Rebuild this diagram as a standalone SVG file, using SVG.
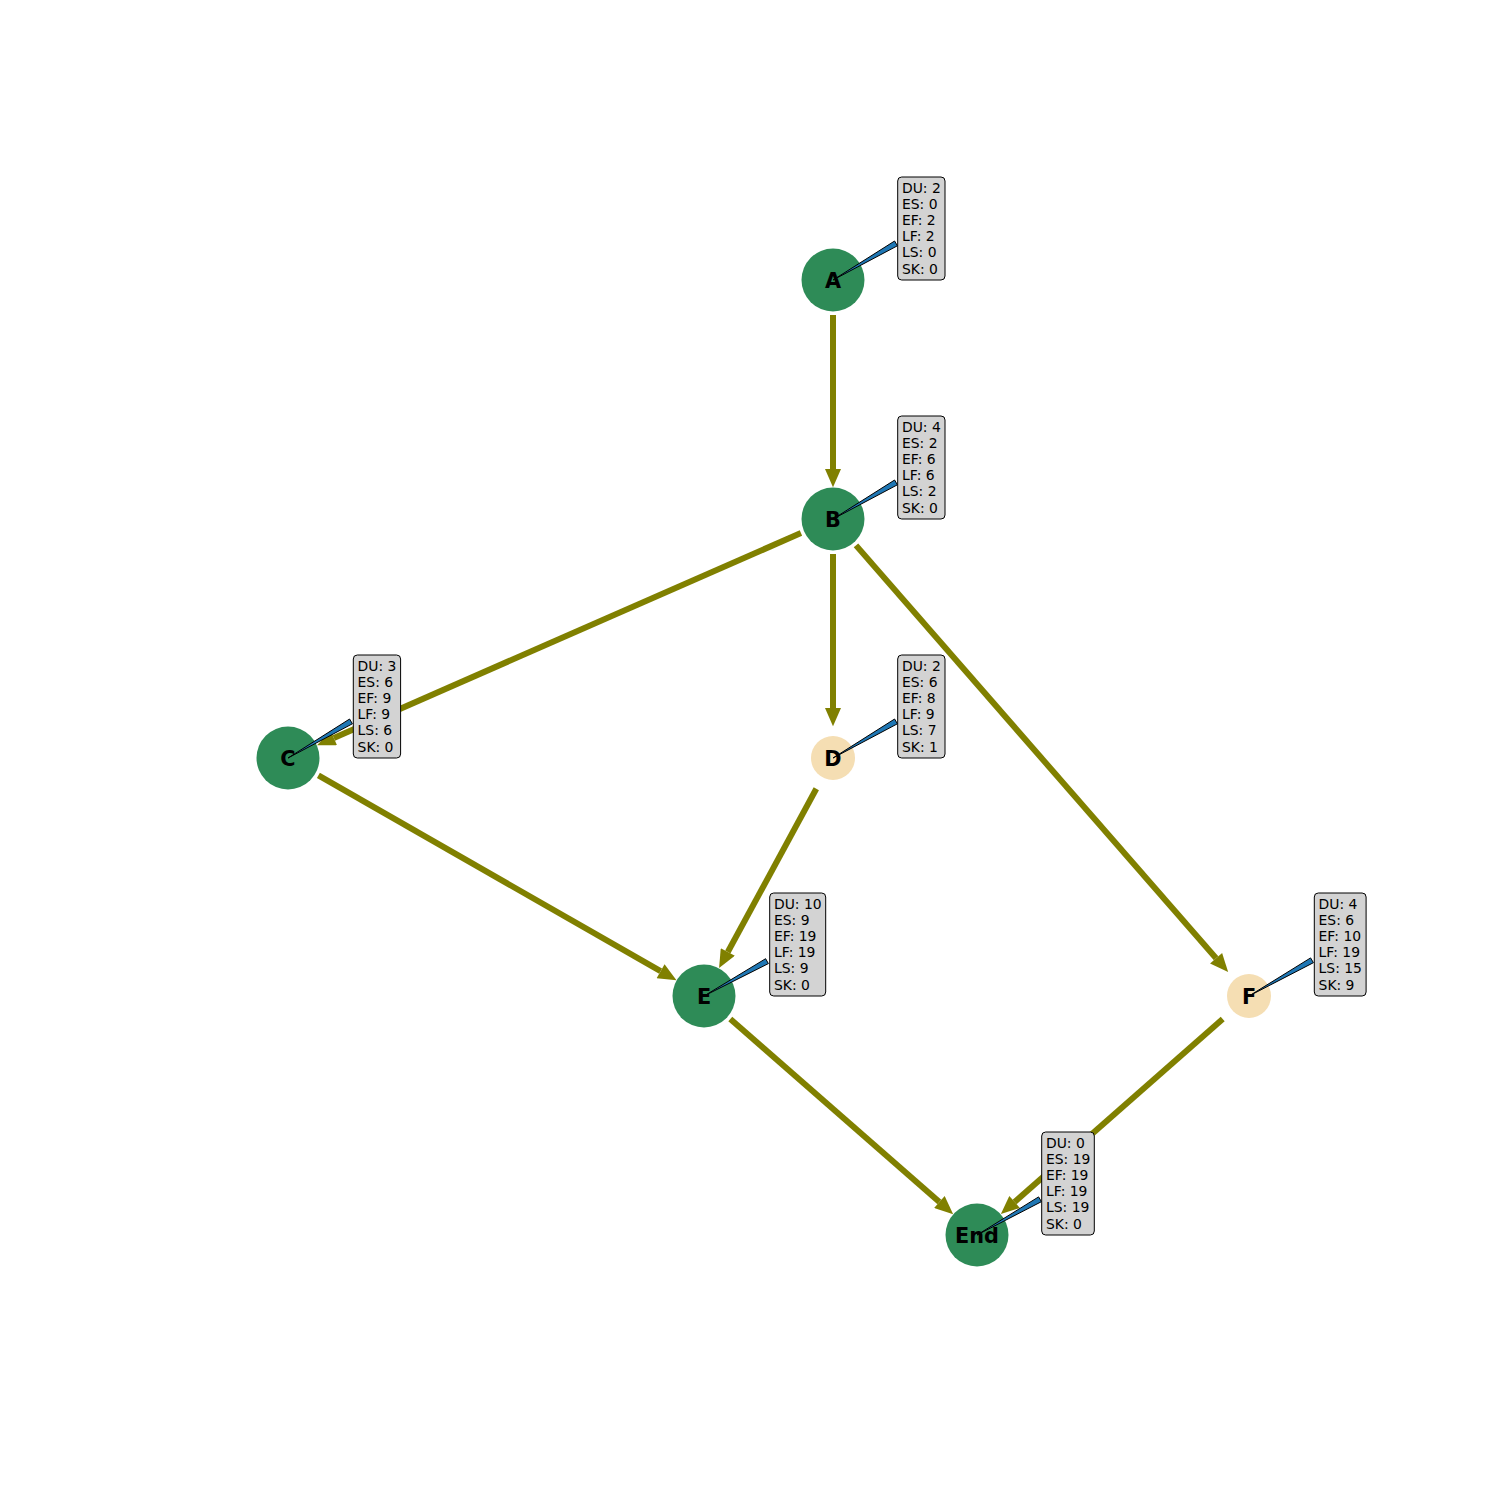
<svg xmlns="http://www.w3.org/2000/svg" width="1500" height="1500" viewBox="0 0 1500 1500">
<style>
.edge{stroke:#808000;stroke-width:6;fill:none;marker-end:url(#ah)}
.crit{fill:#2e8b57}
.non{fill:#f5deb3}
.lbl{font-family:"DejaVu Sans",sans-serif;font-weight:bold;font-size:20.8px;text-anchor:middle;fill:#000}
.box{fill:#d3d3d3;stroke:#000;stroke-width:1}
.info{font-family:"DejaVu Sans",sans-serif;font-size:13.9px;fill:#000}
.wedge{fill:#1f77b4;stroke:#000;stroke-width:1;stroke-linejoin:miter}
</style>
<defs>
<marker id="ah" markerUnits="userSpaceOnUse" markerWidth="20" markerHeight="16" refX="0" refY="7" orient="auto" viewBox="0 0 16 14">
<path d="M0,0 L16,7 L0,14 z" fill="#808000"/>
</marker>
</defs>
<rect width="1500" height="1500" fill="#fff"/>
<g id="edges">
<line class="edge" x1="833" y1="315" x2="833" y2="469"/>
<line class="edge" x1="800.95" y1="533.06" x2="333.79" y2="737.92"/>
<line class="edge" x1="833" y1="554" x2="833" y2="708"/>
<line class="edge" x1="856.0" y1="545.4" x2="1216.1" y2="958.3"/>
<line class="edge" x1="318.4" y1="775.4" x2="660.6" y2="971.2"/>
<line class="edge" x1="816.3" y1="788.8" x2="727.8" y2="952.0"/>
<line class="edge" x1="730.3" y1="1019.1" x2="939.4" y2="1202.1"/>
<line class="edge" x1="1222.7" y1="1019.1" x2="1014.6" y2="1202.0"/>
</g>
<g id="node-A"><circle class="crit" cx="833" cy="280" r="31.5"/><text class="lbl" x="833" y="287.5">A</text></g>
<g id="node-B"><circle class="crit" cx="833" cy="519" r="31.5"/><text class="lbl" x="833" y="526.5">B</text></g>
<g id="node-C"><circle class="crit" cx="288" cy="758" r="31.5"/><text class="lbl" x="288" y="765.5">C</text></g>
<g id="node-D"><circle class="non" cx="833" cy="758" r="22"/><text class="lbl" x="833" y="765.5">D</text></g>
<g id="node-E"><circle class="crit" cx="704" cy="996" r="31.5"/><text class="lbl" x="704" y="1003.5">E</text></g>
<g id="node-F"><circle class="non" cx="1249" cy="996" r="22"/><text class="lbl" x="1249" y="1003.5">F</text></g>
<g id="node-End"><circle class="crit" cx="977" cy="1235" r="31.5"/><text class="lbl" x="977" y="1242.5">End</text></g>
<g id="info-A">
<polygon class="wedge" points="833,280 897.4,245.8 894.6,241.0"/>
<rect class="box" x="897.7" y="177" width="47.3" height="103" rx="4"/>
<text class="info" x="902" y="192.5">DU: 2</text><text class="info" x="902" y="208.7">ES: 0</text><text class="info" x="902" y="224.9">EF: 2</text><text class="info" x="902" y="241.1">LF: 2</text><text class="info" x="902" y="257.3">LS: 0</text><text class="info" x="902" y="273.5">SK: 0</text>
</g>
<g id="info-B">
<polygon class="wedge" points="833,519 897.4,484.8 894.6,480.0"/>
<rect class="box" x="897.7" y="416" width="47.3" height="103" rx="4"/>
<text class="info" x="902" y="431.5">DU: 4</text><text class="info" x="902" y="447.7">ES: 2</text><text class="info" x="902" y="463.9">EF: 6</text><text class="info" x="902" y="480.1">LF: 6</text><text class="info" x="902" y="496.3">LS: 2</text><text class="info" x="902" y="512.5">SK: 0</text>
</g>
<g id="info-C">
<polygon class="wedge" points="288,758 352.4,723.8 349.6,719.0"/>
<rect class="box" x="353.3" y="655" width="47.3" height="103" rx="4"/>
<text class="info" x="357.6" y="670.5">DU: 3</text><text class="info" x="357.6" y="686.7">ES: 6</text><text class="info" x="357.6" y="702.9">EF: 9</text><text class="info" x="357.6" y="719.1">LF: 9</text><text class="info" x="357.6" y="735.3">LS: 6</text><text class="info" x="357.6" y="751.5">SK: 0</text>
</g>
<g id="info-D">
<polygon class="wedge" points="833,758 897.4,723.8 894.6,719.0"/>
<rect class="box" x="897.7" y="655" width="47.3" height="103" rx="4"/>
<text class="info" x="902" y="670.5">DU: 2</text><text class="info" x="902" y="686.7">ES: 6</text><text class="info" x="902" y="702.9">EF: 8</text><text class="info" x="902" y="719.1">LF: 9</text><text class="info" x="902" y="735.3">LS: 7</text><text class="info" x="902" y="751.5">SK: 1</text>
</g>
<g id="info-E">
<polygon class="wedge" points="704,996 768.4,963.6 765.6,958.7"/>
<rect class="box" x="769.7" y="893" width="56" height="103" rx="4"/>
<text class="info" x="774" y="908.5">DU: 10</text><text class="info" x="774" y="924.7">ES: 9</text><text class="info" x="774" y="940.9">EF: 19</text><text class="info" x="774" y="957.1">LF: 19</text><text class="info" x="774" y="973.3">LS: 9</text><text class="info" x="774" y="989.5">SK: 0</text>
</g>
<g id="info-F">
<polygon class="wedge" points="1249,996 1313.4,962.7 1310.6,957.9"/>
<rect class="box" x="1314.3" y="893" width="51.8" height="103" rx="4"/>
<text class="info" x="1318.6" y="908.5">DU: 4</text><text class="info" x="1318.6" y="924.7">ES: 6</text><text class="info" x="1318.6" y="940.9">EF: 10</text><text class="info" x="1318.6" y="957.1">LF: 19</text><text class="info" x="1318.6" y="973.3">LS: 15</text><text class="info" x="1318.6" y="989.5">SK: 9</text>
</g>
<g id="info-End">
<polygon class="wedge" points="977,1235 1041.4,1201.7 1038.6,1196.9"/>
<rect class="box" x="1041.7" y="1132" width="52.6" height="103" rx="4"/>
<text class="info" x="1046" y="1147.5">DU: 0</text><text class="info" x="1046" y="1163.7">ES: 19</text><text class="info" x="1046" y="1179.9">EF: 19</text><text class="info" x="1046" y="1196.1">LF: 19</text><text class="info" x="1046" y="1212.3">LS: 19</text><text class="info" x="1046" y="1228.5">SK: 0</text>
</g>
</svg>
